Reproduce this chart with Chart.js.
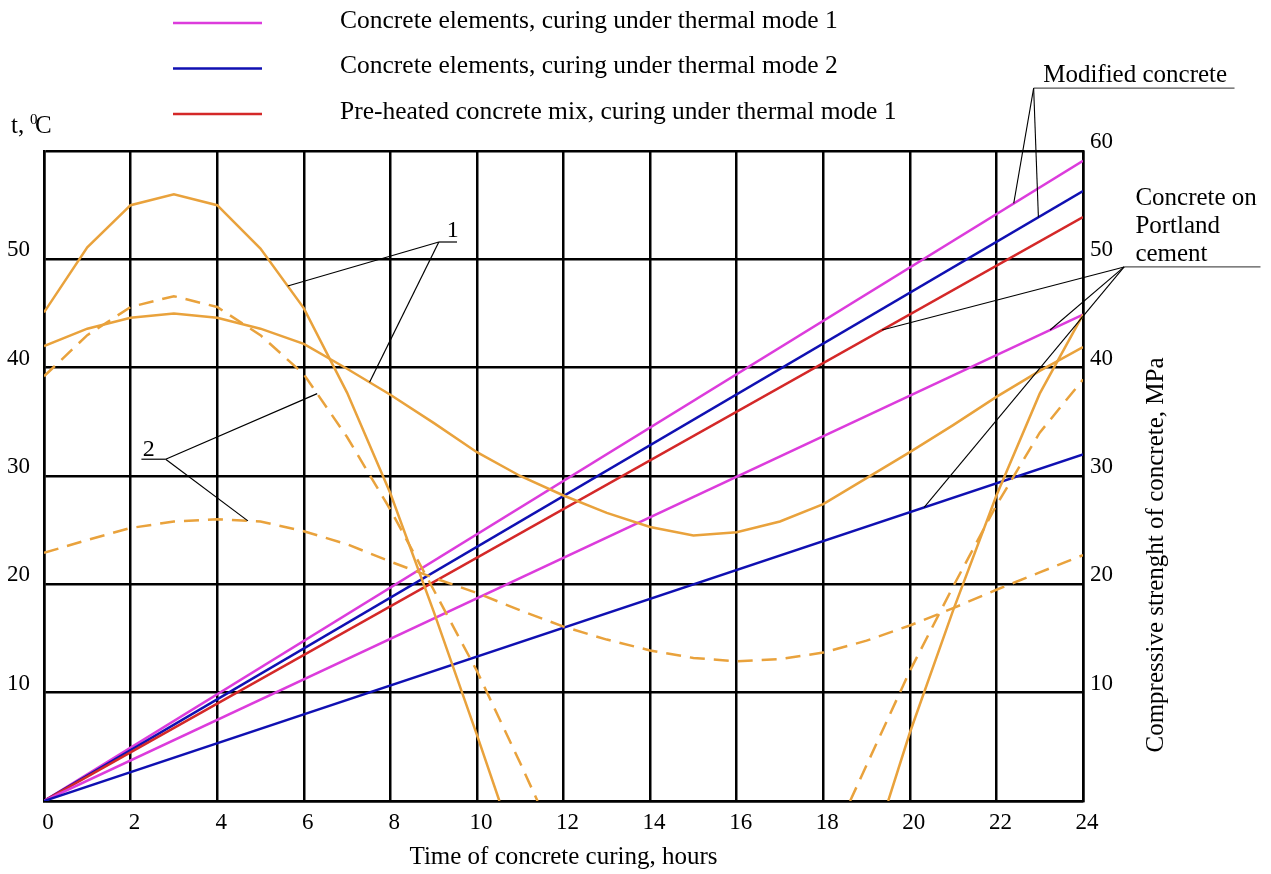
<!DOCTYPE html>
<html><head><meta charset="utf-8">
<script src="https://cdn.jsdelivr.net/npm/chart.js@4.4.1/dist/chart.umd.min.js"></script>
<style>html,body{margin:0;padding:0;background:#fff;}#wrap{width:1271px;height:874px;position:relative;}</style>
</head><body><div id="wrap"><canvas id="c" width="1271" height="874"></canvas></div>
<script>
// ---------- data ----------
const HOURS = [0,1,2,3,4,5,6,7,8,9,10,11,12,13,14,15,16,17,18,19,20,21,22,23,24];
const X_TICKS = [0,2,4,6,8,10,12,14,16,18,20,22,24];

// temperature, thermal mode 1 (solid orange), curve "1"
const T1_HIGH_X = [0,1,2,3,4,5,6,7,8,9,10,10.52,15,19.5,20,21,22,23,24];
const T1_HIGH   = [45.1,51.1,55.0,56.0,55.0,51.0,45.5,37.7,28.4,17.5,6.1,0,null,0,6.3,17.6,28.2,37.6,44.9];
const T1_LOW    = [42.0,43.6,44.6,45.0,44.6,43.6,42.2,39.9,37.5,34.9,32.2,30.0,28.2,26.6,25.3,24.5,24.8,25.8,27.4,29.8,32.2,34.7,37.3,39.7,41.9];
// temperature, thermal mode 2 (dashed orange), curve "2"
const T2_HIGH_X = [0,1,2,3,4,5,6,7,8,9,10,11,11.4,15,18.62,19,20,21,22,23,24];
const T2_HIGH   = [39.2,43.0,45.6,46.6,45.6,43.0,39.4,33.6,26.9,19.5,12.0,3.5,0,null,0,3.3,12.0,19.8,27.3,34.0,38.9];
const T2_LOW    = [22.9,24.1,25.2,25.8,26.0,25.8,24.9,23.7,22.1,20.6,19.2,17.6,16.1,14.9,13.9,13.2,12.9,13.1,13.7,14.8,16.2,17.8,19.5,21.1,22.7];

// compressive strength, MPa
const S_X = [0,24];
const S_MODE1_MOD  = [0,59.1];
const S_MODE2_MOD  = [0,56.3];
const S_PREHEAT    = [0,53.9];
const S_MODE1_PORT = [0,44.9];
const S_MODE2_PORT = [0,32.0];

const LEGEND_LABELS = ['Concrete elements, curing under thermal mode 1','Concrete elements, curing under thermal mode 2','Pre-heated concrete mix, curing under thermal mode 1'];

// ---------- styles ----------
const FONT = "'Liberation Serif','Times New Roman',serif";
const ORANGE = '#E9A23C', MAGENTA = '#DC3CDC', BLUE = '#1010B2', RED = '#D42828';
const LEGEND_COLORS = [MAGENTA, BLUE, RED];

const pts = (xs, ys) => xs.map((x,i)=>({x, y: ys[i]}));
function interp(xs, ys, x){
  for(let i=0;i<xs.length-1;i++){
    if(x>=xs[i] && x<=xs[i+1] && ys[i]!=null && ys[i+1]!=null){
      return ys[i] + (ys[i+1]-ys[i])*(x-xs[i])/(xs[i+1]-xs[i]);
    }
  }
  return null;
}

const lineDs = (data, color, axis, dash) => ({
  data, borderColor: color, backgroundColor: color, borderWidth: 2.5,
  borderDash: dash || [], pointRadius: 0, tension: 0, yAxisID: axis, spanGaps: false, fill: false
});

// annotations: leader lines anchored on data series
const NOTES = [
  {text:'1', textAt:[9.44,52.6], bar:[9.12,9.54,51.6], targets:[[T1_HIGH_X,T1_HIGH,5.63],[HOURS,T1_LOW,7.52]]},
  {text:'2', textAt:[2.42,32.4], bar:[2.81,2.25,31.55], targets:[[T2_HIGH_X,T2_HIGH,6.31],[HOURS,T2_LOW,4.71]]}
];
const MOD_NOTE = {lines:['Modified concrete'], textX:23.08, textY:[67.0], bar:[22.86,27.5,65.8], targets:[[S_X,S_MODE1_MOD,22.4],[S_X,S_MODE2_MOD,22.97]]};
const PORT_NOTE = {lines:['Concrete on','Portland','cement'], textX:25.21, textY:[55.65,53.03,50.42], bar:[24.95,28.1,49.3], targets:[[S_X,S_PREHEAT,19.36],[S_X,S_MODE1_PORT,23.24],[S_X,S_MODE2_PORT,20.33]]};

const overlay = {
  id:'overlay',
  afterDraw(chart){
    const {ctx} = chart; const xs = chart.scales.x, ys = chart.scales.y;
    const px = v=>xs.getPixelForValue(v), py = v=>ys.getPixelForValue(v);
    ctx.save();
    ctx.fillStyle = '#000';
    // legend
    ctx.font = '25.5px ' + FONT; ctx.textBaseline = 'middle'; ctx.textAlign = 'left';
    LEGEND_LABELS.forEach((lab,i)=>{
      const yy = 23 + i*45.5;
      ctx.strokeStyle = LEGEND_COLORS[i]; ctx.lineWidth = 2.5;
      ctx.beginPath(); ctx.moveTo(173,yy); ctx.lineTo(262,yy); ctx.stroke();
      ctx.fillText(lab, 340, yy-2);
    });
    // left axis unit
    ctx.textBaseline = 'alphabetic';
    ctx.font = '25px ' + FONT; ctx.fillText('t,', 11, 133);
    ctx.font = '15px ' + FONT; ctx.fillText('0', 30, 124);
    ctx.font = '25px ' + FONT; ctx.fillText('C', 35, 133);
    // right axis title
    ctx.save(); ctx.translate(1156, 555); ctx.rotate(-Math.PI/2);
    ctx.font = '25px ' + FONT; ctx.textAlign = 'center'; ctx.textBaseline = 'middle';
    ctx.fillText('Compressive strenght of concrete, MPa', 0, 0); ctx.restore();
    // numbered notes
    ctx.lineWidth = 1.2; ctx.strokeStyle = '#000';
    NOTES.forEach(n=>{
      ctx.font = '24px ' + FONT; ctx.textAlign = 'center'; ctx.textBaseline = 'middle';
      ctx.fillText(n.text, px(n.textAt[0]), py(n.textAt[1]));
      const ax = px(n.bar[0]), ay = py(n.bar[2]);
      ctx.beginPath(); ctx.moveTo(px(n.bar[1]), ay); ctx.lineTo(ax, ay); ctx.stroke();
      n.targets.forEach(([sx,sy,x])=>{
        ctx.beginPath(); ctx.moveTo(ax, ay); ctx.lineTo(px(x), py(interp(sx,sy,x))); ctx.stroke();
      });
    });
    // text notes on the right
    [MOD_NOTE, PORT_NOTE].forEach(n=>{
      ctx.font = '25px ' + FONT; ctx.textAlign = 'left'; ctx.textBaseline = 'middle';
      n.lines.forEach((t,i)=>ctx.fillText(t, px(n.textX), py(n.textY[i])));
      const ax = px(n.bar[0]), ay = py(n.bar[2]);
      ctx.strokeStyle = '#555'; ctx.lineWidth = 1.4;
      ctx.beginPath(); ctx.moveTo(ax, ay); ctx.lineTo(px(n.bar[1]), ay); ctx.stroke();
      ctx.strokeStyle = '#000'; ctx.lineWidth = 1.1;
      n.targets.forEach(([sx,sy,x])=>{
        ctx.beginPath(); ctx.moveTo(ax, ay); ctx.lineTo(px(x), py(interp(sx,sy,x))); ctx.stroke();
      });
    });
    ctx.restore();
  }
};

const gridOpts = {color:'#000', lineWidth:2.5, drawTicks:false};
const tickFont = {family:FONT, size:23};

new Chart(document.getElementById('c').getContext('2d'), {
  type:'line',
  data:{datasets:[
    lineDs(pts(T1_HIGH_X,T1_HIGH), ORANGE, 'y'),
    lineDs(pts(HOURS,T1_LOW), ORANGE, 'y'),
    lineDs(pts(T2_HIGH_X,T2_HIGH), ORANGE, 'y', [15,9]),
    lineDs(pts(HOURS,T2_LOW), ORANGE, 'y', [15,9]),
    lineDs(pts(S_X,S_MODE2_PORT), BLUE, 'y1'),
    lineDs(pts(S_X,S_MODE1_PORT), MAGENTA, 'y1'),
    lineDs(pts(S_X,S_PREHEAT), RED, 'y1'),
    lineDs(pts(S_X,S_MODE2_MOD), BLUE, 'y1'),
    lineDs(pts(S_X,S_MODE1_MOD), MAGENTA, 'y1')
  ]},
  options:{
    responsive:false, animation:false, devicePixelRatio:1,
    layout:{padding:{top:151,left:0,right:0,bottom:0}},
    plugins:{legend:{display:false}, tooltip:{enabled:false}},
    scales:{
      x:{type:'linear', min:0, max:24,
        afterBuildTicks(s){ s.ticks = X_TICKS.map(v=>({value:v})); },
        ticks:{color:'#000', font:tickFont, padding:8, labelOffset:4, maxRotation:0, autoSkip:false},
        grid:gridOpts, border:{display:true,color:'#000',width:2.5},
        title:{display:true, text:'Time of concrete curing, hours', color:'#000', font:{family:FONT,size:25}, padding:{top:0,bottom:2}},
        afterFit(s){ s.height = 73; }
      },
      y:{position:'left', min:0, max:60,
        ticks:{stepSize:10, color:'#000', font:tickFont, padding:14, labelOffset:-9, callback:v=>(v>0&&v<60)?v:''},
        grid:gridOpts, border:{display:true,color:'#000',width:2.5},
        afterFit(s){ s.width = 44; }
      },
      y1:{position:'right', min:0, max:60,
        ticks:{stepSize:10, color:'#000', font:tickFont, padding:7, labelOffset:-9, callback:v=>v>0?v:''},
        grid:{display:false, drawTicks:false}, border:{display:true,color:'#000',width:2.5},
        afterFit(s){ s.width = 188; }
      }
    }
  },
  plugins:[overlay]
});
</script></body></html>
